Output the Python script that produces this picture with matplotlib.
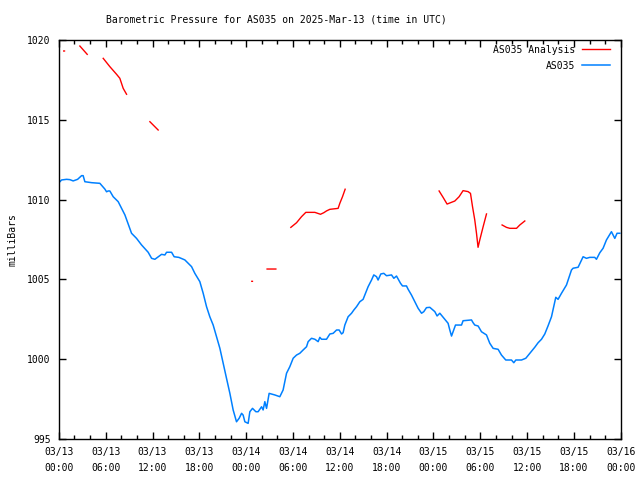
import numpy as np
import matplotlib
matplotlib.use('Agg')
import matplotlib.pyplot as plt
from matplotlib.ticker import MultipleLocator, FixedLocator

# hours since 2025-03-13 00:00 UTC, pressure in mb
obs_hours = [0.13, 0.35, 0.99, 1.41, 1.83, 2.40, 2.91, 3.11, 3.33, 4.19, 5.25, 5.89, 6.11, 6.32, 6.53,
             6.96, 7.60, 8.46, 9.31, 9.95, 10.59, 11.44, 11.88, 12.30, 13.16, 13.58, 13.80, 14.44,
             14.77, 15.37, 16.14, 17.00, 17.42, 18.06, 18.49, 18.92, 19.34, 19.77, 20.20, 20.63,
             21.05, 21.48, 21.91, 22.33, 22.76, 23.10, 23.41, 23.61, 23.83, 24.25, 24.47, 24.81,
             25.24, 25.53, 25.97, 26.17, 26.39, 26.61, 26.94, 27.67, 28.31, 28.73, 29.17, 29.59,
             30.02, 30.45, 30.87, 31.30, 31.73, 31.94, 32.37, 32.80, 33.22, 33.44, 33.65, 34.29,
             34.72, 35.14, 35.58, 35.91, 36.22, 36.42, 36.64, 37.06, 37.50, 37.79, 38.14, 38.56,
             38.98, 39.20, 39.62, 40.06, 40.35, 40.70, 40.90, 41.25, 41.63, 41.98, 42.62, 42.92,
             43.26, 43.77, 44.03, 44.54, 44.75, 45.18, 45.61, 46.03, 46.47, 46.76, 47.10, 47.53,
             48.17, 48.46, 48.81, 49.23, 49.87, 50.09, 50.31, 50.51, 50.82, 51.59, 51.79, 52.87,
             53.07, 53.29, 53.72, 54.15, 54.79, 55.21, 55.64, 56.28, 56.71, 57.26, 57.99, 58.29,
             58.55, 59.28, 59.83, 60.34, 60.98, 61.40, 61.84, 62.26, 62.68, 63.12, 63.67, 63.96,
             64.40, 65.04, 65.68, 65.89, 66.53, 67.17, 67.60, 68.02, 68.66, 68.88, 69.31, 69.73,
             70.16, 70.80, 71.23, 71.52, 71.87]
obs_mb = [1011.12, 1011.23, 1011.27, 1011.25, 1011.17, 1011.27, 1011.50, 1011.50, 1011.12, 1011.06,
          1011.02, 1010.66, 1010.49, 1010.54, 1010.54, 1010.18, 1009.87, 1009.04, 1007.89, 1007.57,
          1007.16, 1006.70, 1006.32, 1006.26, 1006.57, 1006.53, 1006.70, 1006.70, 1006.42, 1006.38,
          1006.22, 1005.80, 1005.38, 1004.86, 1004.13, 1003.29, 1002.66, 1002.14, 1001.41, 1000.68,
          999.74, 998.80, 997.86, 996.82, 996.08, 996.30, 996.61, 996.50, 996.08, 995.98,
          996.71, 996.92, 996.71, 996.71, 997.02, 996.82, 997.34, 996.92, 997.86, 997.76,
          997.65, 998.07, 999.12, 999.53, 1000.06, 1000.26, 1000.37, 1000.58, 1000.78, 1001.10,
          1001.31, 1001.25, 1001.10, 1001.37, 1001.25, 1001.25, 1001.58, 1001.62, 1001.83, 1001.83,
          1001.58, 1001.66, 1002.14, 1002.66, 1002.88, 1003.08, 1003.29, 1003.60, 1003.75, 1004.02,
          1004.54, 1004.96, 1005.28, 1005.17, 1004.96, 1005.34, 1005.38, 1005.23, 1005.28, 1005.07,
          1005.21, 1004.76, 1004.59, 1004.59, 1004.38, 1004.02, 1003.60, 1003.19, 1002.88, 1002.98,
          1003.23, 1003.25, 1002.98, 1002.71, 1002.88, 1002.63, 1002.25, 1001.83, 1001.45, 1001.72,
          1002.14, 1002.14, 1002.41, 1002.46, 1002.29, 1002.14, 1002.08, 1001.72, 1001.52, 1001.00,
          1000.68, 1000.62, 1000.26, 999.95, 999.95, 999.78, 999.95, 999.95, 1000.06, 1000.37,
          1000.75, 1001.03, 1001.25, 1001.58, 1002.09, 1002.66, 1003.88, 1003.75, 1004.13, 1004.65,
          1005.59, 1005.70, 1005.76, 1006.42, 1006.32, 1006.38, 1006.38, 1006.26, 1006.67, 1006.95,
          1007.47, 1007.99, 1007.57, 1007.89, 1007.89]

# analysis has gaps, nan breaks the line
ana_hours = [0.62, 0.72, np.nan,
             2.69, 3.63, np.nan,
             5.68, 6.53, 7.39, 7.81, 8.24, 8.67, np.nan,
             11.66, 12.72, np.nan,
             24.72, 24.80, np.nan,
             26.68, 27.80, np.nan,
             29.72, 30.45, 31.09, 31.64, 32.80, 33.52, 33.95, 34.29, 34.72, 35.78, 36.00, 36.34, 36.68, np.nan,
             48.72, 49.23, 49.74, 50.31, 50.73, 51.28, 51.79, 52.43, 52.74, 53.00, 53.29, 53.51, 53.71,
             53.93, 54.36, 54.79, np.nan,
             56.79, 57.35, 57.78, 58.64, 59.06, 59.70]
ana_mb = [1019.31, 1019.31, np.nan,
          1019.62, 1019.10, np.nan,
          1018.85, 1018.33, 1017.85, 1017.60, 1016.97, 1016.60, np.nan,
          1014.88, 1014.36, np.nan,
          1004.88, 1004.88, np.nan,
          1005.65, 1005.65, np.nan,
          1008.26, 1008.55, 1008.93, 1009.20, 1009.20, 1009.08, 1009.18, 1009.29, 1009.39, 1009.45,
          1009.77, 1010.18, 1010.65, np.nan,
          1010.54, 1010.14, 1009.72, 1009.83, 1009.91, 1010.18, 1010.56, 1010.50, 1010.39, 1009.56,
          1008.72, 1007.89, 1007.01, 1007.47, 1008.30, 1009.10, np.nan,
          1008.41, 1008.26, 1008.20, 1008.20, 1008.41, 1008.66]

tick_hours = list(range(0, 73, 6))
tick_labels = ['03/13\n00:00', '03/13\n06:00', '03/13\n12:00', '03/13\n18:00',
               '03/14\n00:00', '03/14\n06:00', '03/14\n12:00', '03/14\n18:00',
               '03/15\n00:00', '03/15\n06:00', '03/15\n12:00', '03/15\n18:00',
               '03/16\n00:00']

plt.rcParams['font.family'] = 'DejaVu Sans Mono'
plt.rcParams['font.size'] = 7

fig = plt.figure(figsize=(6.4, 4.8), dpi=100)
ax = fig.add_axes([0.092, 0.0854, 0.878, 0.8313])

ax.plot(ana_hours, ana_mb, color='#ff0000', lw=1, label='AS035 Analysis')
ax.plot(obs_hours, obs_mb, color='#0080ff', lw=1.1, label='AS035')

ax.set_xlim(0, 72)
ax.set_ylim(995, 1020)
ax.xaxis.set_major_locator(FixedLocator(tick_hours))
ax.set_xticklabels(tick_labels, linespacing=1.7)
ax.xaxis.set_minor_locator(MultipleLocator(2))
ax.yaxis.set_major_locator(MultipleLocator(5))
ax.tick_params(which='both', direction='in', top=True, right=True, colors='black', width=1)
ax.tick_params(which='major', length=5, pad=6)
ax.tick_params(which='minor', length=3)
for s in ax.spines.values():
    s.set_linewidth(1)

ax.set_ylabel('milliBars', labelpad=7)
fig.text(276 / 640, 1 - 19 / 480, 'Barometric Pressure for AS035 on 2025-Mar-13 (time in UTC)',
         ha='center', va='center')

leg = ax.legend(loc='upper right', bbox_to_anchor=(0.981, 0.988), frameon=False, markerfirst=False,
                handlelength=2.9, labelspacing=0.6, borderaxespad=0, borderpad=0, handletextpad=0.7)

fig.savefig('out.png', dpi=100)
